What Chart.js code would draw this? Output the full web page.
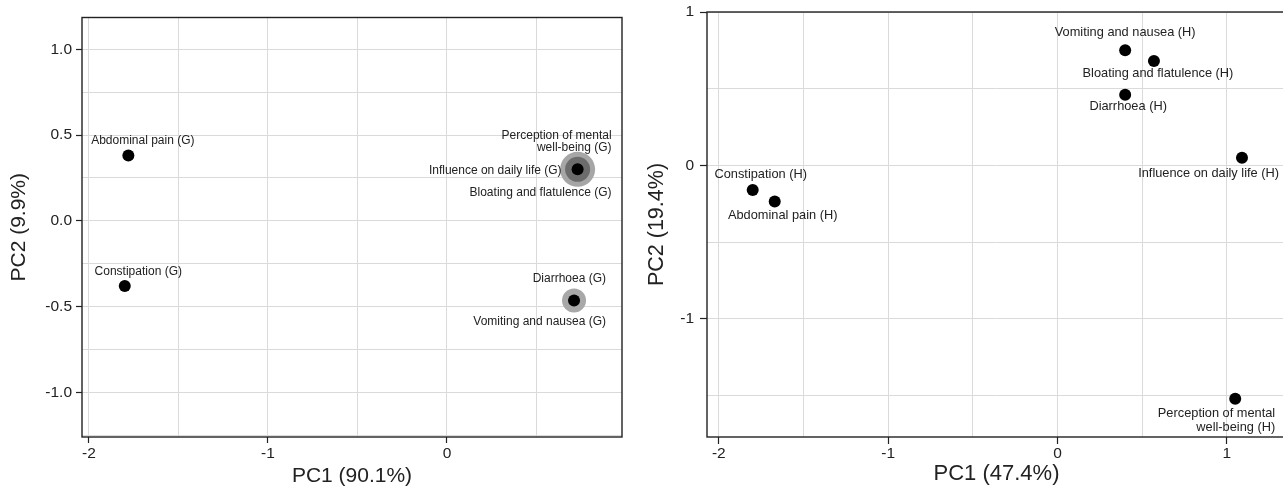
<!DOCTYPE html>
<html>
<head>
<meta charset="utf-8">
<script src="https://cdn.jsdelivr.net/npm/chart.js"></script>
<style>
    html, body { margin: 0; padding: 0; background: #fff; overflow: hidden; }
    body { width: 1283px; height: 489px; position: relative; }
    #chart-g { position: absolute; left: 0; top: 0; }
    #chart-h { position: absolute; left: 640px; top: 0; }
</style>
</head>
<body>
<canvas id="chart-g" width="640" height="489"></canvas>
<canvas id="chart-h" width="652" height="489"></canvas>
<script>
// ==================== DATA ====================

const gCategories = ['Abdominal pain (G)', 'Constipation (G)', 'Perception of mental\nwell-being (G)',
    'Influence on daily life (G)', 'Bloating and flatulence (G)', 'Diarrhoea (G)', 'Vomiting and nausea (G)'];
const gPC1 = [-1.78, -1.80, 0.73, 0.73, 0.73, 0.71, 0.71];
const gPC2 = [0.38, -0.38, 0.30, 0.30, 0.30, -0.465, -0.465];

const hCategories = ['Abdominal pain (H)', 'Constipation (H)', 'Perception of mental\nwell-being (H)',
    'Influence on daily life (H)', 'Bloating and flatulence (H)', 'Diarrhoea (H)', 'Vomiting and nausea (H)'];
const hPC1 = [-1.67, -1.80, 1.05, 1.09, 0.57, 0.40, 0.40];
const hPC2 = [-0.235, -0.16, -1.52, 0.05, 0.68, 0.46, 0.75];

const gTitles = { x: 'PC1 (90.1%)', y: 'PC2 (9.9%)' };
const hTitles = { x: 'PC1 (47.4%)', y: 'PC2 (19.4%)' };

// ==================== STYLE ====================

const FONT = "'Liberation Sans', Arial, sans-serif";
const TEXT = '#222222';

// overlapping points on the left panel are drawn as bigger grey discs
const gRadius = [6, 6, 17.5, 12.5, 6, 12, 6];
const gColor = ['#000', '#000', '#a6a6a6', '#6c6c6c', '#000', '#a8a8a8', '#000'];
const hRadius = [6, 6, 6, 6, 6, 6, 6];
const hColor = ['#000', '#000', '#000', '#000', '#000', '#000', '#000'];

// label offsets in pixels from the point
const gLabelPos = [
    { dx: 14.5, dy: -15, align: 'center' },
    { dx: 13.5, dy: -14, align: 'center' },
    { dx: 34, dy: -34, align: 'right' },
    { dx: -16, dy: 1, align: 'right' },
    { dx: 34, dy: 23, align: 'right' },
    { dx: 32, dy: -22, align: 'right' },
    { dx: 32, dy: 21, align: 'right' }
];
const hLabelPos = [
    { dx: 8, dy: 14, align: 'center' },
    { dx: 8, dy: -16, align: 'center' },
    { dx: 40, dy: 15, align: 'right' },
    { dx: 37, dy: 16, align: 'right' },
    { dx: 4, dy: 12, align: 'center' },
    { dx: 3, dy: 12, align: 'center' },
    { dx: 0, dy: -18, align: 'center' }
];

// ==================== PLUGINS ====================

function makeBoxPlugin() {
    return {
        id: 'box',
        afterDraw(chart) {
            const { ctx, chartArea: a } = chart;
            ctx.save();
            ctx.strokeStyle = '#222';
            ctx.lineWidth = 1.4;
            ctx.strokeRect(a.left, a.top, a.right - a.left, a.bottom - a.top);
            ctx.restore();
        }
    };
}

function makeLabelPlugin(names, xs, ys, pos, size, gap) {
    return {
        id: 'pointLabels',
        afterDatasetsDraw(chart) {
            const { ctx, scales: { x, y } } = chart;
            ctx.save();
            ctx.font = `${size}px ${FONT}`;
            ctx.fillStyle = TEXT;
            ctx.textBaseline = 'middle';
            names.forEach((name, i) => {
                const px = x.getPixelForValue(xs[i]);
                const py = y.getPixelForValue(ys[i]);
                ctx.textAlign = pos[i].align;
                name.split('\n').forEach((line, k) => {
                    ctx.fillText(line, px + pos[i].dx, py + pos[i].dy + k * gap);
                });
            });
            ctx.restore();
        }
    };
}

// ==================== CHARTS ====================

function isMultiple(v, step) {
    return Math.abs(v / step - Math.round(v / step)) < 1e-6;
}

function buildChart(id, o) {
    // one dataset per point so that big discs are drawn underneath
    const datasets = o.names.map((name, i) => ({
        label: name,
        data: [{ x: o.xs[i], y: o.ys[i] }],
        pointRadius: o.radius[i],
        pointBackgroundColor: o.color[i],
        pointBorderWidth: 0,
        order: o.radius[i]
    }));

    const axis = (cfg) => ({
        type: 'linear',
        min: cfg.min,
        max: cfg.max,
        border: { display: false },
        grid: {
            color: '#dadada',
            lineWidth: 1,
            tickLength: o.tickLen,
            tickColor: ctx => isMultiple(ctx.tick.value, cfg.major) ? '#222' : 'rgba(0,0,0,0)',
            tickWidth: 1.2
        },
        ticks: {
            stepSize: cfg.step,
            includeBounds: false,
            autoSkip: false,
            maxRotation: 0,
            padding: cfg.pad,
            color: TEXT,
            font: { family: FONT, size: o.tickSize },
            callback: v => isMultiple(v, cfg.major) ? cfg.fmt(v) : ''
        },
        title: {
            display: true,
            text: cfg.title,
            color: TEXT,
            font: { family: FONT, size: cfg.titleSize },
            padding: cfg.titlePad
        },
        afterFit: cfg.fit
    });

    return new Chart(document.getElementById(id), {
        type: 'scatter',
        data: { datasets },
        options: {
            responsive: false,
            animation: false,
            devicePixelRatio: 1,
            layout: { padding: o.padding },
            plugins: { legend: { display: false }, tooltip: { enabled: false } },
            scales: {
                x: axis(Object.assign({}, o.x, { fit: s => {
                    s.height = 52;
                    s.paddingLeft = 0;
                    s.paddingRight = 0;
                } })),
                y: axis(Object.assign({}, o.y, { fit: s => {
                    s.width = o.yAxisWidth;
                    s.paddingTop = 0;
                    s.paddingBottom = 0;
                } }))
            }
        },
        plugins: [
            makeBoxPlugin(),
            makeLabelPlugin(o.names, o.xs, o.ys, o.labelPos, o.labelSize, o.labelGap)
        ]
    });
}

buildChart('chart-g', {
    names: gCategories, xs: gPC1, ys: gPC2,
    radius: gRadius, color: gColor,
    labelPos: gLabelPos, labelSize: 12, labelGap: 12,
    tickSize: 15.5, tickLen: 6, yAxisWidth: 82,
    padding: { top: 13, right: 18, bottom: 0, left: 0 },
    x: { min: -2.039, max: 0.978, step: 0.5, major: 1, pad: 1,
         fmt: v => String(v), title: gTitles.x, titleSize: 21, titlePad: { top: 0, bottom: 0 } },
    y: { min: -1.26, max: 1.185, step: 0.25, major: 0.5, pad: 4,
         fmt: v => v.toFixed(1), title: gTitles.y, titleSize: 21, titlePad: { top: 7, bottom: 0 } }
});

buildChart('chart-h', {
    names: hCategories, xs: hPC1, ys: hPC2,
    radius: hRadius, color: hColor,
    labelPos: hLabelPos, labelSize: 12.8, labelGap: 14,
    tickSize: 15.5, tickLen: 7, yAxisWidth: 67,
    padding: { top: 12, right: 0, bottom: 0, left: 0 },
    x: { min: -2.07, max: 1.35, step: 0.5, major: 1, pad: 0,
         fmt: v => String(v), title: hTitles.x, titleSize: 22, titlePad: { top: 0, bottom: 2 } },
    y: { min: -1.77, max: 1.0, step: 0.5, major: 1, pad: 6,
         fmt: v => String(v), title: hTitles.y, titleSize: 21.5, titlePad: { top: 4, bottom: 0 } }
});
</script>
</body>
</html>
